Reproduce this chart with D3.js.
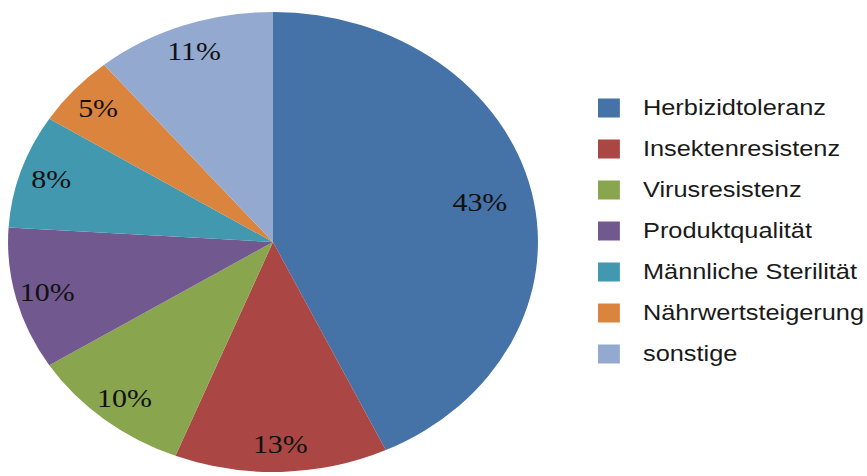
<!DOCTYPE html>
<html>
<head>
<meta charset="utf-8">
<script src="https://cdn.jsdelivr.net/npm/d3@7"></script>
<style>
  body { margin: 0; background: #fff; }
  svg { display: block; }
</style>
</head>
<body>
<div id="chart"></div>
<script>
// --------------------------------------------------------------------------------------
// data
// --------------------------------------------------------------------------------------
var categories = ["Herbizidtoleranz", "Insektenresistenz", "Virusresistenz", "Produktqualität",
                  "Männliche Sterilität", "Nährwertsteigerung", "sonstige"];
var shares = [43, 13, 10, 10, 8, 5, 11];
var colors = ["#4572A7", "#AA4643", "#89A54E", "#71588F", "#4198AF", "#DB843D", "#93A9CF"];

// --------------------------------------------------------------------------------------
// layout - the original picture is stretched horizontally, so draw everything
// in a group scaled on x
// --------------------------------------------------------------------------------------
var width = 867, height = 476;
var sx = 1.152;
var radius = 230;
var cx = 273 / sx, cy = 242;

var svg = d3.select("#chart").append("svg")
    .attr("width", width)
    .attr("height", height);

var g = svg.append("g")
    .attr("transform", "scale(" + sx + ",1)");

var data = categories.map(function(c, i) { return { name : c, value : shares[i], color : colors[i] }; });

var pie = d3.pie()
    .sort(null)
    .value(function(d) { return d.value; });

var arc = d3.arc()
    .innerRadius(0)
    .outerRadius(radius);

var slices = g.append("g")
    .attr("transform", "translate(" + cx + "," + cy + ")");

slices.selectAll("path")
    .data(pie(data))
    .enter().append("path")
    .attr("d", arc)
    .attr("fill", function(d) { return d.data.color; });

// labels - big slice gets its label further inside (excel "best fit")
slices.selectAll("text")
    .data(pie(data))
    .enter().append("text")
    .attr("transform", function(d) {
      var r = d.data.value > 30 ? radius * 0.8 : radius * 0.88;
      var a = (d.startAngle + d.endAngle) / 2;
      return "translate(" + (Math.sin(a) * r) + "," + (-Math.cos(a) * r) + ")";
    })
    .attr("text-anchor", "middle")
    .attr("dominant-baseline", "central")
    .style("font-family", "'Liberation Serif', 'DejaVu Serif', serif")
    .style("font-size", "26px")
    .style("fill", "#111")
    .text(function(d) { return d.data.value + "%"; });

// --------------------------------------------------------------------------------------
// legend
// --------------------------------------------------------------------------------------
var ly = d3.scalePoint()
    .domain(categories)
    .range([108, 354]);

var legend = g.append("g");

var items = legend.selectAll("g")
    .data(data)
    .enter().append("g")
    .attr("transform", function(d) { return "translate(0," + ly(d.name) + ")"; });

items.append("rect")
    .attr("x", 598 / sx)
    .attr("y", -9.5)
    .attr("width", 19)
    .attr("height", 19)
    .attr("fill", function(d) { return d.color; });

items.append("text")
    .attr("x", 643 / sx)
    .attr("y", 0)
    .attr("dominant-baseline", "central")
    .style("font-family", "'Liberation Sans', Arial, sans-serif")
    .style("font-size", "22px")
    .style("fill", "#1a1a1a")
    .text(function(d) { return d.name; });
</script>
</body>
</html>
